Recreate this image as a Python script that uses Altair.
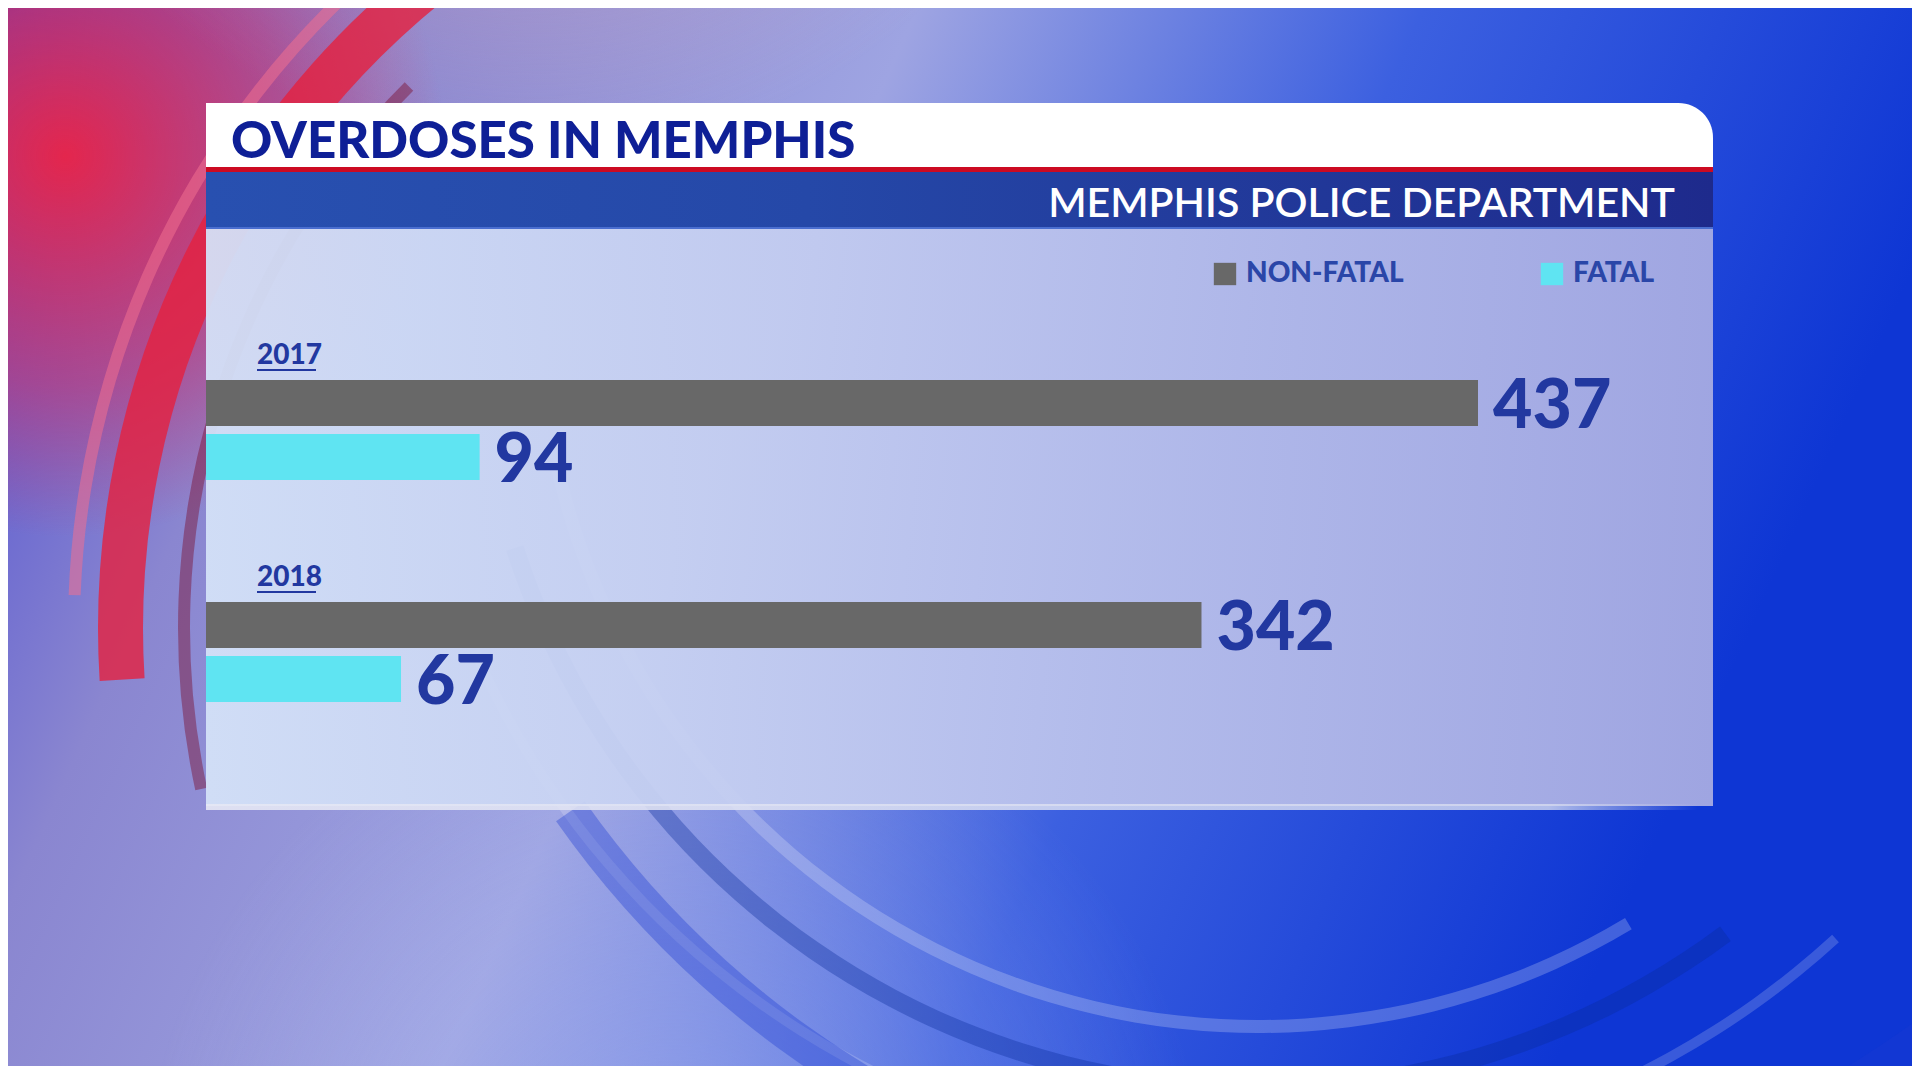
import altair as alt
import pandas as pd

# ---------------- data ----------------
title_text = "OVERDOSES IN MEMPHIS"
subtitle_text = "MEMPHIS POLICE DEPARTMENT"
years = ["2017", "2017", "2018", "2018"]
kinds = ["NON-FATAL", "FATAL", "NON-FATAL", "FATAL"]
counts = [437, 94, 342, 67]
year_labels = ["2017", "2018"]
kind_order = ["NON-FATAL", "FATAL"]
kind_colors = ["#686868", "#5fe4f2"]

W, H = 1904, 1058
df = pd.DataFrame({"year": years, "kind": kinds, "count": counts})
years_df = pd.DataFrame({"year": year_labels})
one = alt.Data(values=[{"k": 0}])

NAVY = "#0e1f96"
LABEL_BLUE = "#2238a0"


def grad(stops, x1=0, y1=0, x2=1, y2=0):
    return alt.LinearGradient(
        gradient="linear",
        stops=[alt.GradientStop(offset=o, color=c) for o, c in stops],
        x1=x1, y1=y1, x2=x2, y2=y2,
    )


def rgrad(stops, cx, cy, r):
    return alt.RadialGradient(
        gradient="radial",
        stops=[alt.GradientStop(offset=o, color=c) for o, c in stops],
        x1=cx, y1=cy, r1=0, x2=cx, y2=cy, r2=r,
    )


def rect(x, x2, y, y2, color, **kw):
    return alt.Chart(one).mark_rect(color=color, **kw).encode(
        x=alt.value(x), x2=alt.value(x2), y=alt.value(y), y2=alt.value(y2)
    )


def ring(cx, cy, r_out, r_in, t1, t2, color, opacity):
    return alt.Chart(one).mark_arc(
        radius=r_out, radius2=r_in, theta=t1, theta2=t2, color=color, opacity=opacity
    ).encode(x=alt.value(cx), y=alt.value(cy))


# ---------------- background ----------------
bg = rect(0, W, 0, H, grad([(0, "#4a4ad0"), (0.2, "#8a86d0"), (0.45, "#9ea4e2"),
                            (0.7, "#3c60e0"), (1, "#0e36d4")], 0, 0, 1, 0.25))
bg_red = rect(0, W, 0, H, rgrad([(0, "rgba(235,35,70,0.95)"), (0.6, "rgba(220,40,90,0.5)"),
                                 (1, "rgba(220,40,90,0)")], 0.03, 0.3, 0.2))
bg_pink = rect(0, W, 0, H, rgrad([(0, "rgba(215,170,185,0.8)"), (1, "rgba(215,170,185,0)")],
                                 0.28, 0.0, 0.3))
bg_bottom = rect(0, W, 0, H, rgrad([(0, "rgba(175,185,240,0.55)"), (1, "rgba(175,185,240,0)")],
                                   0.35, 0.85, 0.28))

rings = [
    ring(940, 620, 850, 805, 4.65, 5.7, "#e5203e", 0.8),
    ring(940, 620, 880, 868, 4.75, 5.75, "#f07090", 0.55),
    ring(940, 620, 770, 758, 4.5, 5.5, "#7a1030", 0.45),
    ring(1250, 300, 725, 712, 2.6, 4.5, "#ffffff", 0.22),
    ring(1250, 300, 790, 772, 2.5, 4.4, "#0a2a9a", 0.35),
    ring(1250, 300, 860, 850, 2.4, 4.3, "#ffffff", 0.18),
    ring(1350, 250, 980, 945, 2.3, 4.1, "#1a3ad0", 0.35),
]

# ---------------- panel ----------------
panel_body = rect(198, 1705, 221, 798,
                  grad([(0, "rgba(212,226,248,0.94)"), (0.5, "rgba(190,198,238,0.94)"),
                        (1, "rgba(168,172,226,0.94)")]))
panel_bevel = rect(198, 1690, 796, 802, grad([(0, "rgba(230,232,245,0.9)"), (0.9, "rgba(215,220,240,0.8)"),
                                              (1, "rgba(215,220,240,0)")]))
white_band = rect(198, 1705, 95, 164, "#ffffff", cornerRadiusTopRight=52)
red_line = rect(198, 1705, 159, 164, "#cc0a22")
blue_band = rect(198, 1705, 164, 220, grad([(0, "#2850b0"), (0.4, "#2548a8"), (1, "#1e2a8c")]))
blue_edge = rect(198, 1705, 219, 221, "#4a6ed0")

title = alt.Chart(one).mark_text(
    text=title_text, align="left", baseline="alphabetic", font="Lato",
    fontSize=51, fontWeight=900, color=NAVY,
).encode(x=alt.value(223), y=alt.value(150))

subtitle = alt.Chart(one).mark_text(
    text=subtitle_text, align="right", baseline="alphabetic", font="Lato",
    fontSize=41, fontWeight=600, color="#ffffff",
).encode(x=alt.value(1667), y=alt.value(209))

# ---------------- bars ----------------
xs = alt.Scale(domain=[0, max(counts)], range=[198, 1470], nice=False, zero=True)
ys = alt.Scale(domain=year_labels, range=[368, 698], paddingInner=0.5135, paddingOuter=0)
yo = alt.Scale(domain=kind_order, paddingInner=0.148, paddingOuter=0.074)

bars = alt.Chart(df).mark_bar().encode(
    x=alt.X("count:Q", scale=xs, axis=None),
    y=alt.Y("year:N", scale=ys, axis=None),
    yOffset=alt.YOffset("kind:N", scale=yo),
    color=alt.Color(
        "kind:N",
        scale=alt.Scale(domain=kind_order, range=kind_colors),
        legend=alt.Legend(
            orient="none", legendX=1203, legendY=252, direction="horizontal",
            title=None, symbolType="square", symbolSize=500, symbolStrokeWidth=0,
            symbolOpacity=1, labelFont="Lato", labelFontSize=28, labelFontWeight=900,
            labelColor="#2a46a8", labelOffset=7, columnPadding=134, labelLimit=400,
        ),
    ),
)

values = alt.Chart(df).mark_text(
    align="left", baseline="alphabetic", dx=15, dy=25, font="Lato",
    fontSize=68, fontWeight=900, color=LABEL_BLUE,
).encode(
    x=alt.X("count:Q", scale=xs, axis=None),
    y=alt.Y("year:N", scale=ys, axis=None),
    yOffset=alt.YOffset("kind:N", scale=yo),
    text="count:Q",
)

year_text = alt.Chart(years_df).mark_text(
    align="left", baseline="alphabetic", dy=-66, font="Lato",
    fontSize=28, fontWeight=900, color=LABEL_BLUE,
).encode(
    x=alt.value(249),
    y=alt.Y("year:N", scale=ys, axis=None),
    text="year:N",
)

year_underline = alt.Chart(years_df).mark_rule(
    yOffset=-60, strokeWidth=2, color=LABEL_BLUE,
).encode(
    x=alt.value(249), x2=alt.value(308),
    y=alt.Y("year:N", scale=ys, axis=None),
)

chart = alt.layer(
    bg, bg_red, bg_pink, bg_bottom, *rings,
    panel_body, panel_bevel, white_band, red_line, blue_band, blue_edge,
    title, subtitle, bars, values, year_text, year_underline,
).properties(
    width=W, height=H, padding=0, background="#2848d0",
    autosize=alt.AutoSizeParams(type="none"),
).configure_view(stroke=None)

chart.save("out.html", embed_options={"renderer": "svg", "actions": False})
